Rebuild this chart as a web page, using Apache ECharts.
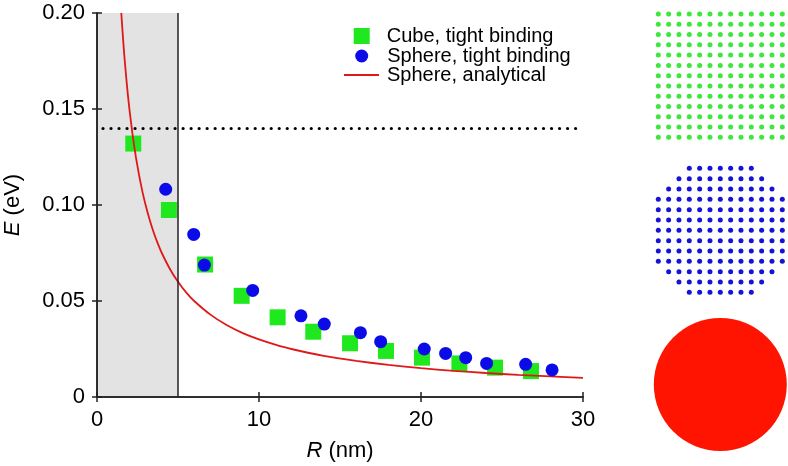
<!DOCTYPE html>
<html>
<head>
<meta charset="utf-8">
<script src="https://cdn.jsdelivr.net/npm/echarts@6/dist/echarts.min.js"></script>
<style>
html,body{margin:0;padding:0;background:#fff;}
#chart{width:788px;height:466px;}
</style>
</head>
<body>
<div id="chart"></div>
<script>
// ---- data ----
const cubeR = [2.24, 4.44, 6.67, 8.93, 11.15, 13.35, 15.62, 17.84, 20.06, 22.37, 24.57, 26.79];
const cubeE = [0.132, 0.0974, 0.0690, 0.0527, 0.0415, 0.0340, 0.0280, 0.0240, 0.0205, 0.0175, 0.0153, 0.0135];
const sphereR = [4.24, 5.97, 6.63, 9.61, 12.59, 14.03, 16.26, 17.51, 20.2, 21.52, 22.76, 24.05, 26.46, 28.09];
const sphereE = [0.1082, 0.0847, 0.0687, 0.0555, 0.0423, 0.0380, 0.0335, 0.0288, 0.0250, 0.0227, 0.0205, 0.0175, 0.0170, 0.0141];
const lineR = [1.5, 1.6, 1.7, 1.8, 1.9, 2.0, 2.2, 2.4, 2.6, 2.8, 3.0, 3.25, 3.5, 3.75, 4.0, 4.5, 5.0, 5.5, 6.0, 7.0, 8.0, 9.0, 10, 11, 12, 14, 16, 18, 20, 22, 24, 26, 28, 30];
const lineE = [0.2000, 0.1875, 0.1765, 0.1667, 0.1579, 0.1500, 0.1364, 0.1250, 0.1154, 0.1071, 0.1000, 0.0923, 0.0857, 0.0800, 0.0750, 0.0667, 0.0600, 0.0545, 0.0500, 0.0429, 0.0375, 0.0333, 0.0300, 0.0273, 0.0250, 0.0214, 0.0188, 0.0167, 0.0150, 0.0136, 0.0125, 0.0115, 0.0107, 0.0100];
const seriesNames = ['Cube, tight binding', 'Sphere, tight binding', 'Sphere, analytical'];
const xTickLabels = ['0', '10', '20', '30'];
const yTickLabels = ['0', '0.05', '0.10', '0.15', '0.20'];
const shadeR = [0, 5];
const thresholdE = 0.14;
// inset lattices: number of atoms per row
const cubeRowCounts = [13, 13, 13, 13, 13, 13, 13, 13, 13, 13, 13, 13, 13];
const sphereRowCounts = [7, 9, 11, 13, 13, 13, 13, 13, 13, 13, 11, 9, 7];

// ---- build ----
const zip = (a, b) => a.map((v, i) => [v, b[i]]);
function lattice(rows) {
  const pts = [];
  const maxN = Math.max(...rows);
  rows.forEach((n, r) => {
    const start = (maxN - n) / 2;
    for (let c = 0; c < n; c++) pts.push([start + c, rows.length - 1 - r]);
  });
  return pts;
}
const FONT = '"Liberation Sans", Arial, Helvetica, sans-serif';
const chart = echarts.init(document.getElementById('chart'), null, {renderer: 'canvas'});

const axisLine = {show: true, lineStyle: {color: '#222', width: 1.5}};
const axisTick = {show: true, inside: true, length: 5, lineStyle: {color: '#222', width: 1.5}};
const hiddenAxis = {show: false};
const legendText = pad => ({fontSize: 20, lineHeight: 20, color: '#000', fontFamily: FONT, padding: [0, 0, 0, pad]});
const nameStyle = {fontSize: 22, color: '#000', fontFamily: FONT, rich: {i: {fontStyle: 'italic', fontSize: 22, fontFamily: FONT, color: '#000'}}};

const option = {
  backgroundColor: '#fff',
  animation: false,
  textStyle: {fontFamily: FONT},
  grid: [
    {left: 97, right: 205, top: 13, bottom: 69, containLabel: false, outerBoundsMode: 'none'},
    {left: 658.3, width: 124, top: 14, height: 123.3, outerBoundsMode: 'none'},
    {left: 658.3, width: 124, top: 168.3, height: 124, outerBoundsMode: 'none'},
    {left: 653.8, width: 133, top: 318, height: 133, outerBoundsMode: 'none'}
  ],
  legend: [
    {data: [{name: seriesNames[0], icon: 'rect'}], left: 353.7, top: 26, padding: 0, itemWidth: 16, itemHeight: 16,
     selectedMode: false, textStyle: legendText(12)},
    {data: [{name: seriesNames[1], icon: 'circle'}], left: 355.2, top: 46, padding: 0, itemWidth: 13, itemHeight: 13,
     selectedMode: false, textStyle: legendText(14)},
    {data: [{name: seriesNames[2], icon: 'rect'}], left: 344, top: 65, padding: 0, itemWidth: 35, itemHeight: 2,
     selectedMode: false, textStyle: legendText(3)}
  ],
  xAxis: [
    {type: 'value', gridIndex: 0, min: 0, max: 30, interval: 10, z: 10,
     name: '{i|R} (nm)', nameLocation: 'middle', nameGap: 43, nameTextStyle: nameStyle,
     axisLine: axisLine, axisTick: axisTick, splitLine: {show: false},
     axisLabel: {fontSize: 22, color: '#000', margin: 12, fontFamily: FONT,
       formatter: v => xTickLabels[Math.round(v / 10)]}},
    {type: 'value', gridIndex: 0, position: 'top', min: 0, max: 30, interval: 10, z: 10,
     axisLine: axisLine, axisTick: axisTick, axisLabel: {show: false}, splitLine: {show: false}},
    Object.assign({type: 'value', gridIndex: 1, min: 0, max: 12}, hiddenAxis),
    Object.assign({type: 'value', gridIndex: 2, min: 0, max: 12}, hiddenAxis),
    Object.assign({type: 'value', gridIndex: 3, min: -1, max: 1}, hiddenAxis)
  ],
  yAxis: [
    {type: 'value', gridIndex: 0, min: 0, max: 0.2, interval: 0.05, z: 10,
     name: '{i|E} (eV)', nameLocation: 'middle', nameGap: 73, nameTextStyle: nameStyle,
     axisLine: axisLine, axisTick: axisTick, splitLine: {show: false},
     axisLabel: {fontSize: 22, color: '#000', margin: 12, fontFamily: FONT,
       formatter: v => yTickLabels[Math.round(v / 0.05)]}},
    {type: 'value', gridIndex: 0, position: 'right', min: 0, max: 0.2, interval: 0.05, z: 10,
     axisLine: axisLine, axisTick: axisTick, axisLabel: {show: false}, splitLine: {show: false}},
    Object.assign({type: 'value', gridIndex: 1, min: 0, max: 12}, hiddenAxis),
    Object.assign({type: 'value', gridIndex: 2, min: 0, max: 12}, hiddenAxis),
    Object.assign({type: 'value', gridIndex: 3, min: -1, max: 1}, hiddenAxis)
  ],
  series: [
    {
      name: 'guides', type: 'line', xAxisIndex: 0, yAxisIndex: 0, data: [], z: 1, silent: true,
      markArea: {silent: true, itemStyle: {color: '#e3e3e3'},
        data: [[{xAxis: shadeR[0]}, {xAxis: shadeR[1]}]]},
      markLine: {silent: true, symbol: 'none', label: {show: false},
        data: [
          {xAxis: shadeR[1], lineStyle: {color: '#222', width: 1.5, type: 'solid'}},
          {yAxis: thresholdE, lineStyle: {color: '#000', width: 3.2, type: [0.01, 8], cap: 'round', dashOffset: -6}}
        ]}
    },
    {
      name: seriesNames[0], type: 'scatter', xAxisIndex: 0, yAxisIndex: 0, z: 2,
      symbol: 'rect', symbolSize: 16, itemStyle: {color: '#1fe81f', opacity: 1},
      data: zip(cubeR, cubeE)
    },
    {
      name: seriesNames[2], type: 'line', xAxisIndex: 0, yAxisIndex: 0, z: 3,
      showSymbol: false, symbol: 'none', smooth: 0.2, clip: true,
      lineStyle: {color: '#e01818', width: 1.8}, itemStyle: {color: '#e01818'},
      data: zip(lineR, lineE)
    },
    {
      name: seriesNames[1], type: 'scatter', xAxisIndex: 0, yAxisIndex: 0, z: 4,
      symbol: 'circle', symbolSize: 13, itemStyle: {color: '#0b0be8', opacity: 1},
      data: zip(sphereR, sphereE)
    },
    {
      name: 'cube lattice', type: 'scatter', xAxisIndex: 2, yAxisIndex: 2, silent: true,
      symbol: 'circle', symbolSize: 5, itemStyle: {color: '#3be83b', opacity: 1},
      data: lattice(cubeRowCounts)
    },
    {
      name: 'sphere lattice', type: 'scatter', xAxisIndex: 3, yAxisIndex: 3, silent: true,
      symbol: 'circle', symbolSize: 5, itemStyle: {color: '#1414d8', opacity: 1},
      data: lattice(sphereRowCounts)
    },
    {
      name: 'continuum sphere', type: 'scatter', xAxisIndex: 4, yAxisIndex: 4, silent: true,
      symbol: 'circle', symbolSize: 133, itemStyle: {color: '#fe1400', opacity: 1},
      data: [[0, 0]]
    }
  ]
};
chart.setOption(option);
</script>
</body>
</html>
